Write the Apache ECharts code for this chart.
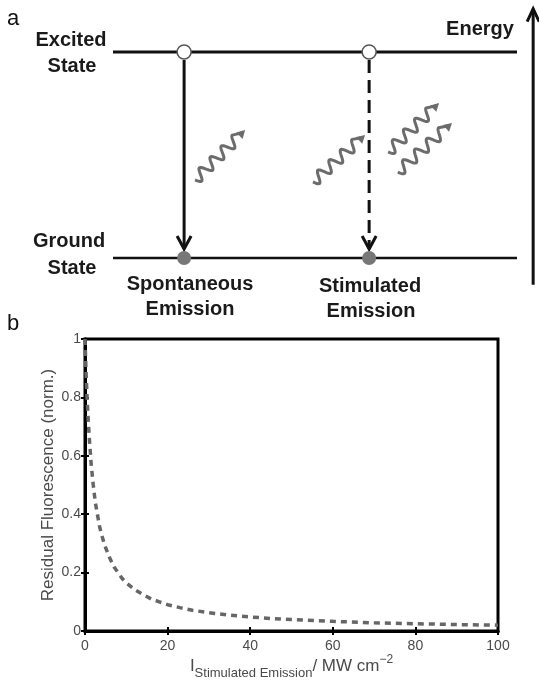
<!DOCTYPE html>
<html>
<head>
<meta charset="utf-8">
<script src="https://cdn.jsdelivr.net/npm/echarts@6/dist/echarts.min.js"></script>
<style>
  html, body { margin: 0; padding: 0; background: #fff; }
  #main { width: 539px; height: 681px; }
</style>
</head>
<body>
<div id="main"></div>
<script>
// panel b - residual fluorescence vs stimulated emission intensity (MW/cm^2)
const intensity = [0, 0.25, 0.5, 0.75, 1, 1.5, 2, 2.5, 3, 3.5, 4, 5, 6, 7, 8, 9, 10, 12, 14, 16, 18, 20, 23, 26, 30, 35, 40, 45, 50, 60, 70, 80, 90, 100]
const fluorescence = [1, 0.89, 0.8, 0.73, 0.67, 0.57, 0.5, 0.44, 0.4, 0.36, 0.33, 0.285, 0.25, 0.22, 0.2, 0.18, 0.165, 0.142, 0.125, 0.11, 0.1, 0.09, 0.08, 0.071, 0.063, 0.054, 0.048, 0.043, 0.039, 0.033, 0.028, 0.025, 0.022, 0.02]
const xTicks = [0, 20, 40, 60, 80, 100]
const yTicks = [0, 0.2, 0.4, 0.6, 0.8, 1]

// panel a - energy diagram (x: 0..1 along the level lines, y: ground 0, excited 1)
const levelNames = ['Ground State', 'Excited State']
const levelY = [0, 1]
const transitionNames = ['Spontaneous Emission', 'Stimulated Emission']
const transitionX = [0.176, 0.634]
const transitionDashed = [false, true]
// photons: [x0, y0, x1, y1]
const photons = [
  [0.203, 0.379, 0.327, 0.621],
  [0.495, 0.369, 0.624, 0.597],
  [0.681, 0.515, 0.807, 0.752],
  [0.705, 0.417, 0.839, 0.655]
]
const energyArrow = [[1.04, -0.13, 1.21]]

const FONT = "'Liberation Sans', Arial, Helvetica, sans-serif"
const GREY = '#6c6c6c'

const chart = echarts.init(document.getElementById('main'))

const renderLevel = (params, api) => {
  const y = api.value(0)
  const a = api.coord([0, y])
  const b = api.coord([1, y])
  return {
    type: 'line',
    shape: { x1: a[0], y1: a[1], x2: b[0], y2: b[1] },
    style: { stroke: '#111', lineWidth: y === 1 ? 3 : 2.5 }
  }
}

const renderTransition = (params, api) => {
  const x = api.value(0)
  const top = api.coord([x, 1])
  const bot = api.coord([x, 0])
  const tipY = bot[1] - 9
  const dashed = transitionDashed[params.dataIndex]
  return {
    type: 'group',
    children: [
      {
        type: 'line',
        shape: { x1: top[0], y1: top[1] + 8, x2: bot[0], y2: tipY },
        style: { stroke: '#111', lineWidth: 3, lineDash: dashed ? [13, 7] : null }
      },
      {
        type: 'polyline',
        shape: { points: [[bot[0] - 7, tipY - 13], [bot[0], tipY], [bot[0] + 7, tipY - 13]] },
        style: { stroke: '#111', lineWidth: 3, fill: null }
      }
    ]
  }
}

// wavy photon with a small arrow head
const renderPhoton = (params, api) => {
  const a = api.coord([api.value(0), api.value(1)])
  const b = api.coord([api.value(2), api.value(3)])
  const dx = b[0] - a[0], dy = b[1] - a[1]
  const len = Math.hypot(dx, dy)
  const ux = dx / len, uy = dy / len
  const nx = -uy, ny = ux
  const waveLen = len * 0.82
  const pts = []
  for (let i = 0; i <= 80; i++) {
    const t = (i / 80) * waveLen
    const o = 5.5 * Math.sin((t / waveLen) * 3.75 * 2 * Math.PI)
    pts.push([a[0] + ux * t + nx * o, a[1] + uy * t + ny * o])
  }
  pts.push([b[0] - ux * 4, b[1] - uy * 4])
  const head = [
    [b[0], b[1]],
    [b[0] - ux * 8 + nx * 4.5, b[1] - uy * 8 + ny * 4.5],
    [b[0] - ux * 8 - nx * 4.5, b[1] - uy * 8 - ny * 4.5]
  ]
  return {
    type: 'group',
    children: [
      { type: 'polyline', shape: { points: pts }, style: { stroke: GREY, lineWidth: 3, fill: null, lineJoin: 'round' } },
      { type: 'polygon', shape: { points: head }, style: { fill: GREY } }
    ]
  }
}

const renderEnergy = (params, api) => {
  const x = api.value(0)
  const a = api.coord([x, api.value(1)])
  const b = api.coord([x, api.value(2)])
  return {
    type: 'group',
    children: [
      { type: 'line', shape: { x1: a[0], y1: a[1], x2: b[0], y2: b[1] }, style: { stroke: '#111', lineWidth: 3 } },
      {
        type: 'polyline',
        shape: { points: [[b[0] - 6, b[1] + 13], [b[0], b[1]], [b[0] + 6, b[1] + 13]] },
        style: { stroke: '#111', lineWidth: 3, fill: null }
      }
    ]
  }
}

const boldText = (text, x, y) => ({
  type: 'text',
  x, y,
  style: {
    text, font: `bold 20px ${FONT}`, fill: '#1a1a1a',
    textAlign: 'center', textVerticalAlign: 'middle'
  }
})

const levelLabel = (i) => levelNames[i].split(' ')
const transLabel = (i) => transitionNames[i].split(' ')

const axisLine = { show: true, lineStyle: { color: '#000', width: 3 } }
const axisTick = { show: true, inside: true, length: 4, lineStyle: { color: '#000', width: 2 } }
const labelColor = '#4a4a4a'

chart.setOption({
  animation: false,
  backgroundColor: '#fff',
  grid: [
    { left: 85, right: 41, top: 339, bottom: 43, show: true, borderColor: '#000', borderWidth: 3 },
    { left: 113, width: 404, top: 52, height: 206 }
  ],
  xAxis: [
    {
      gridIndex: 0, type: 'value', position: 'bottom',
      min: xTicks[0], max: xTicks[xTicks.length - 1], interval: xTicks[1] - xTicks[0],
      axisLine, axisTick, splitLine: { show: false },
      axisLabel: { color: labelColor, fontSize: 14, fontFamily: FONT, margin: 8 },
      name: '{i|I}{sub|Stimulated Emission}{u|/ MW cm}{sup|\u22122}',
      nameLocation: 'middle', nameGap: 21, nameMoveOverlap: false,
      nameTextStyle: {
        color: labelColor, fontFamily: FONT,
        rich: {
          i: { fontSize: 17, color: labelColor, fontFamily: FONT },
          sub: { fontSize: 13, color: labelColor, fontFamily: FONT, padding: [15, 0, 0, 0] },
          u: { fontSize: 17, color: labelColor, fontFamily: FONT },
          sup: { fontSize: 12, color: labelColor, fontFamily: FONT, padding: [0, 0, 13, 0] }
        }
      }
    },
    {
      gridIndex: 0, type: 'value', position: 'top',
      min: xTicks[0], max: xTicks[xTicks.length - 1], interval: xTicks[1] - xTicks[0],
      axisLine, axisTick, axisLabel: { show: false }, splitLine: { show: false }
    },
    { gridIndex: 1, type: 'value', min: 0, max: 1, show: false }
  ],
  yAxis: [
    {
      gridIndex: 0, type: 'value', position: 'left',
      min: yTicks[0], max: yTicks[yTicks.length - 1], interval: yTicks[1] - yTicks[0],
      axisLine, axisTick, splitLine: { show: false },
      axisLabel: { color: labelColor, fontSize: 14, fontFamily: FONT, margin: 4 },
      name: 'Residual Fluorescence (norm.)',
      nameLocation: 'middle', nameGap: 28, nameMoveOverlap: false,
      nameTextStyle: { color: labelColor, fontSize: 17, fontFamily: FONT }
    },
    {
      gridIndex: 0, type: 'value', position: 'right',
      min: yTicks[0], max: yTicks[yTicks.length - 1], interval: yTicks[1] - yTicks[0],
      axisLine, axisTick, axisLabel: { show: false }, splitLine: { show: false }
    },
    { gridIndex: 1, type: 'value', min: 0, max: 1, show: false }
  ],
  series: [
    {
      name: 'Residual Fluorescence',
      type: 'line', xAxisIndex: 0, yAxisIndex: 0,
      data: intensity.map((v, i) => [v, fluorescence[i]]),
      showSymbol: false,
      lineStyle: { color: '#666', width: 3.5, type: [6, 5] },
      z: 1
    },
    {
      type: 'custom', xAxisIndex: 2, yAxisIndex: 2, clip: false,
      data: levelY.map(y => [y]), renderItem: renderLevel, silent: true
    },
    {
      type: 'custom', xAxisIndex: 2, yAxisIndex: 2, clip: false,
      data: transitionX.map(x => [x]), renderItem: renderTransition, silent: true
    },
    {
      type: 'custom', xAxisIndex: 2, yAxisIndex: 2, clip: false,
      data: photons, renderItem: renderPhoton, silent: true
    },
    {
      type: 'custom', xAxisIndex: 2, yAxisIndex: 2, clip: false,
      data: energyArrow, renderItem: renderEnergy, silent: true
    },
    {
      type: 'scatter', xAxisIndex: 2, yAxisIndex: 2,
      data: transitionX.map(x => [x, levelY[1]]),
      symbol: 'circle', symbolSize: 14,
      itemStyle: { color: '#fff', borderColor: '#555', borderWidth: 1.5, opacity: 1 },
      z: 5, silent: true
    },
    {
      type: 'scatter', xAxisIndex: 2, yAxisIndex: 2,
      data: transitionX.map(x => [x, levelY[0]]),
      symbol: 'circle', symbolSize: 14,
      itemStyle: { color: '#777', opacity: 1 },
      z: 5, silent: true
    }
  ],
  graphic: [
    { type: 'text', x: 7, y: 8, style: { text: 'a', font: `22px ${FONT}`, fill: '#111' } },
    { type: 'text', x: 7, y: 313, style: { text: 'b', font: `22px ${FONT}`, fill: '#111' } },
    boldText(levelLabel(1)[0], 71, 40),
    boldText(levelLabel(1)[1], 72, 66),
    boldText(levelLabel(0)[0], 69, 241),
    boldText(levelLabel(0)[1], 72, 268),
    boldText(transLabel(0)[0], 190, 284),
    boldText(transLabel(0)[1], 190, 309),
    boldText(transLabel(1)[0], 370, 286),
    boldText(transLabel(1)[1], 371, 311),
    boldText('Energy', 480, 29)
  ]
})

window.addEventListener('resize', () => chart.resize())
</script>
</body>
</html>
